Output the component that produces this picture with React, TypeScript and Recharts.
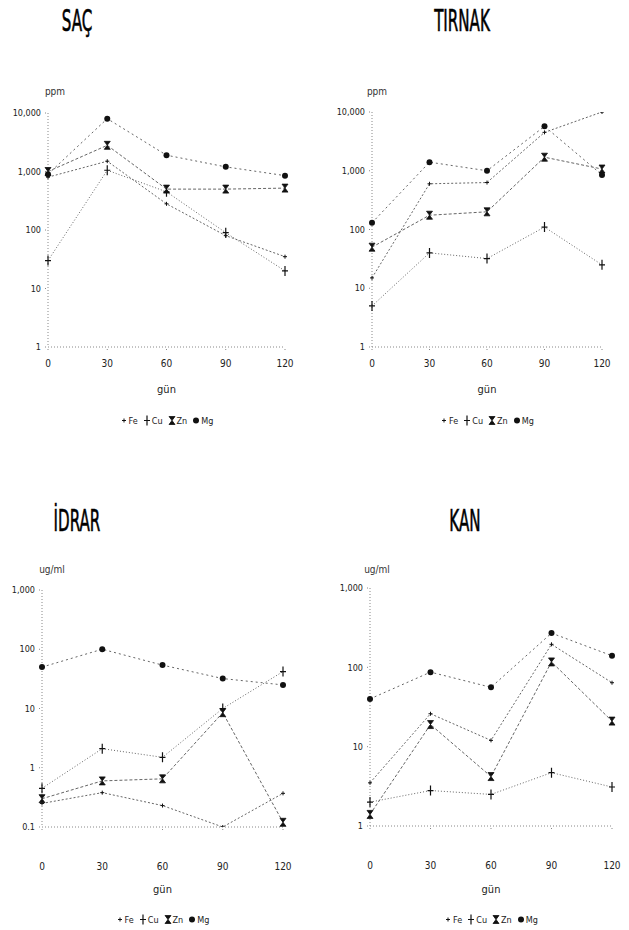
import React from 'react';
import { LineChart, Line, XAxis, YAxis } from 'recharts';

const days = [0, 30, 60, 90, 120];
const elements = ['Fe', 'Cu', 'Zn', 'Mg'];

// SAÇ (ppm)
const sacFe = [800, 1500, 280, 80, 35];
const sacCu = [30, 1050, 450, 90, 20];
const sacZn = [1000, 2800, 500, 500, 520];
const sacMg = [900, 8000, 1900, 1200, 850];

// TIRNAK (ppm)
const tirFe = [15, 600, 630, 4500, 10000];
const tirCu = [5, 40, 32, 110, 25];
const tirZn = [50, 175, 200, 1700, 1070];
const tirMg = [130, 1400, 1000, 5700, 850];

// İDRAR (ug/ml)
const idrFe = [0.25, 0.38, 0.23, 0.1, 0.37];
const idrCu = [0.45, 2.1, 1.5, 10, 42];
const idrZn = [0.3, 0.6, 0.65, 8.5, 0.12];
const idrMg = [50, 100, 54, 32, 25];

// KAN (ug/ml)
const kanFe = [3.5, 26, 12, 195, 64];
const kanCu = [2, 2.8, 2.5, 4.7, 3.1];
const kanZn = [1.4, 19, 4.2, 117, 21];
const kanMg = [40, 87, 56, 270, 140];

const ticks4 = [1, 10, 100, 1000, 10000];
const ticksIdrar = [0.1, 1, 10, 100, 1000];
const ticksKan = [1, 10, 100, 1000];

const narrow = "'Liberation Sans Narrow', 'DejaVu Sans Condensed', sans-serif";

const rows = (fe: number[], cu: number[], zn: number[], mg: number[]) =>
  days.map((d, i) => ({ d, Fe: fe[i], Cu: cu[i], Zn: zn[i], Mg: mg[i] }));

const fmt = (v: number) => (v >= 1000 ? v.toLocaleString('en-US') : String(v));

const Glyph = ({ el, x, y }: { el: string; x: number; y: number }) => {
  if (el === 'Fe')
    return <path d={`M${x - 2},${y} H${x + 2} M${x},${y - 2} V${y + 2}`} stroke="#111" strokeWidth={1} />;
  if (el === 'Cu')
    return <path d={`M${x - 3},${y} H${x + 3} M${x},${y - 5} V${y + 5}`} stroke="#111" strokeWidth={1.2} />;
  if (el === 'Zn')
    return (
      <path
        d={`M${x - 3},${y - 4} H${x + 3} L${x - 3},${y + 4} H${x + 3} Z`}
        fill="#111"
        stroke="#111"
        strokeWidth={0.8}
      />
    );
  return <circle cx={x} cy={y} r={3} fill="#111" />;
};

const dotFor = (el: string) => (props: any) => (
  <g key={`${el}-${props.index}`}>
    {props.cx != null && props.cy != null && <Glyph el={el} x={props.cx} y={props.cy} />}
  </g>
);

const dashes: Record<string, string> = { Fe: '2 2', Cu: '1 2', Zn: '3 2', Mg: '2 3' };

type PanelProps = {
  title: string;
  titleX: number;
  titleY: number;
  unit: string;
  unitX: number;
  unitY: number;
  plot: [number, number, number, number];
  domain: [number, number];
  ticks: number[];
  labelGap: number;
  gunY: number;
  legendY: number;
  data: any[];
};

const Panel = ({ title, titleX, titleY, unit, unitX, unitY, plot, domain, ticks, labelGap, gunY, legendY, data }: PanelProps) => {
  const [x0, y0, x1, y1] = plot;
  const yw = 45;
  const left = x0 - yw;
  const top = y0 - 10;
  const width = x1 - left + 12;
  const height = y1 - top + 50;
  const cx = (x0 + x1) / 2;
  return (
    <>
      <div
        style={{
          position: 'absolute',
          left: titleX - 60,
          top: titleY,
          width: 120,
          textAlign: 'center',
          fontFamily: narrow,
          fontSize: 30,
          lineHeight: '30px',
          color: '#000',
          WebkitTextStroke: '0.6px #000',
          transform: 'scaleX(0.56)',
        }}
      >
        {title}
      </div>
      <div
        style={{
          position: 'absolute',
          left: unitX - 20,
          top: unitY - 6,
          width: 40,
          textAlign: 'center',
          fontFamily: narrow,
          fontSize: 10,
          color: '#333',
        }}
      >
        {unit}
      </div>
      <div style={{ position: 'absolute', left, top }}>
        <LineChart width={width} height={height} data={data} margin={{ top: 10, right: 12, bottom: 0, left: 0 }}>
          <XAxis
            dataKey="d"
            type="number"
            domain={[0, 120]}
            ticks={days}
            height={50}
            stroke="#888"
            strokeDasharray="1 2"
            tickSize={3}
            tickMargin={labelGap}
            tick={{ fontFamily: narrow, fontSize: 10, fill: '#222' }}
          />
          <YAxis
            type="number"
            scale="log"
            domain={domain}
            ticks={ticks}
            allowDataOverflow
            width={yw}
            stroke="#888"
            strokeDasharray="1 2"
            tickSize={3}
            tickMargin={4}
            tickFormatter={fmt}
            tick={{ fontFamily: narrow, fontSize: 9, fill: '#222' }}
          />
          {elements.map((el) => (
            <Line
              key={el}
              dataKey={el}
              type="linear"
              stroke="#666"
              strokeWidth={1}
              strokeDasharray={dashes[el]}
              dot={dotFor(el)}
              isAnimationActive={false}
            />
          ))}
        </LineChart>
      </div>
      <div
        style={{
          position: 'absolute',
          left: cx - 20,
          top: gunY - 7,
          width: 40,
          textAlign: 'center',
          fontFamily: narrow,
          fontSize: 11,
          color: '#222',
        }}
      >
        gün
      </div>
      <div
        style={{
          position: 'absolute',
          left: cx - 60,
          top: legendY - 6,
          width: 120,
          display: 'flex',
          justifyContent: 'center',
          gap: 5,
          fontFamily: narrow,
          fontSize: 9,
          color: '#222',
        }}
      >
        {elements.map((el) => (
          <span key={el} style={{ display: 'flex', alignItems: 'center', gap: 1 }}>
            <svg width={8} height={11}>
              <Glyph el={el} x={4} y={5.5} />
            </svg>
            {el}
          </span>
        ))}
      </div>
    </>
  );
};

export default function App() {
  return (
    <div style={{ position: 'absolute', left: 0, top: 0, width: 629, height: 930, background: '#fff' }}>
      <Panel
        title="SAÇ"
        titleX={77}
        titleY={6}
        unit="ppm"
        unitX={55}
        unitY={92}
        plot={[48, 113, 285, 347]}
        domain={[1, 10000]}
        ticks={ticks4}
        labelGap={10}
        gunY={390}
        legendY={421}
        data={rows(sacFe, sacCu, sacZn, sacMg)}
      />
      <Panel
        title="TIRNAK"
        titleX={462}
        titleY={6}
        unit="ppm"
        unitX={377}
        unitY={92}
        plot={[372, 112, 602, 347]}
        domain={[1, 10000]}
        ticks={ticks4}
        labelGap={10}
        gunY={390}
        legendY={421}
        data={rows(tirFe, tirCu, tirZn, tirMg)}
      />
      <Panel
        title="İDRAR"
        titleX={77}
        titleY={506}
        unit="ug/ml"
        unitX={52}
        unitY={570}
        plot={[42, 590, 283, 827]}
        domain={[0.1, 1000]}
        ticks={ticksIdrar}
        labelGap={33}
        gunY={890}
        legendY={920}
        data={rows(idrFe, idrCu, idrZn, idrMg)}
      />
      <Panel
        title="KAN"
        titleX={465}
        titleY={506}
        unit="ug/ml"
        unitX={377}
        unitY={570}
        plot={[370, 588, 612, 826]}
        domain={[1, 1000]}
        ticks={ticksKan}
        labelGap={33}
        gunY={890}
        legendY={920}
        data={rows(kanFe, kanCu, kanZn, kanMg)}
      />
    </div>
  );
}
